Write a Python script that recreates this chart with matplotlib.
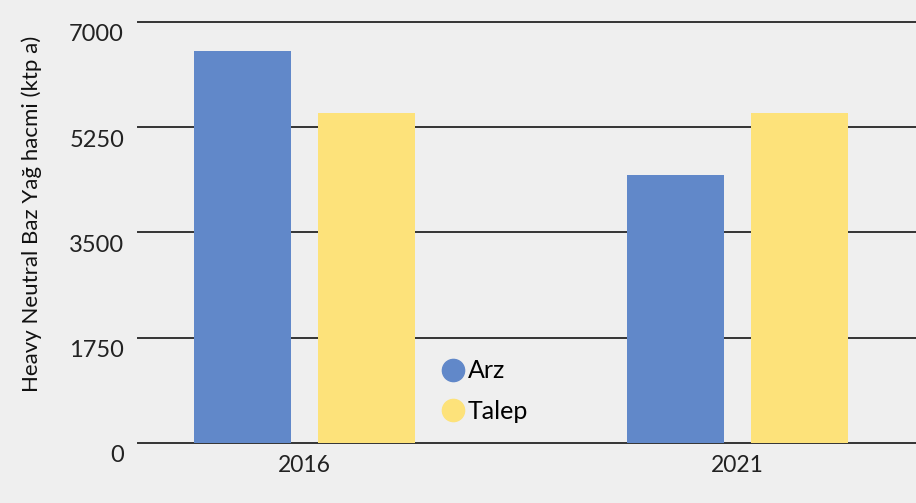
import matplotlib
matplotlib.use("Agg")
import matplotlib.pyplot as plt
import matplotlib.transforms as mtransforms
from matplotlib.lines import Line2D
import numpy as np

# values (ktp a)
years = ["2016", "2021"]
arz = [6520, 4460]
talep = [5490, 5490]
yticks = [0, 1750, 3500, 5250, 7000]
ytick_labels = ["0", "1750", "3500", "5250", "7000"]

BLUE = "#6188c9"
YELLOW = "#fde27a"
BG = "#efefef"

plt.rcParams["font.family"] = ["Lato", "DejaVu Sans"]

fig = plt.figure(figsize=(9.16, 5.03), dpi=100, facecolor=BG)
ax = fig.add_axes([138 / 916, 1 - 443 / 503, 1 - 138 / 916, 421 / 503])
ax.set_facecolor(BG)

x = np.arange(len(years))
w = 0.224
off = 0.143
ax.bar(x - off, arz, width=w, color=BLUE, zorder=3)
ax.bar(x + off, talep, width=w, color=YELLOW, zorder=3)

ax.set_xlim(-0.385, 1.412)
ax.set_ylim(0, 7000)
ax.set_yticks(yticks)
ax.set_yticklabels(ytick_labels)
ax.set_xticks(x)
ax.set_xticklabels(years)

for y in yticks:
    ax.axhline(y, color="#333333", linewidth=1.4, zorder=2, clip_on=False)

for s in ax.spines.values():
    s.set_visible(False)
ax.tick_params(axis="both", length=0, colors="#222222")
ax.tick_params(axis="y", pad=10, labelsize=17)
ax.tick_params(axis="x", pad=9, labelsize=16.5)

shift = mtransforms.ScaledTranslation(0, -11 / 100, fig.dpi_scale_trans)
for lab in ax.get_yticklabels():
    lab.set_transform(lab.get_transform() + shift)

ax.set_ylabel("Heavy Neutral Baz Yağ hacmi (ktp a)", fontsize=16, color="#111111")
ax.yaxis.set_label_coords(-0.124, 0.545)

handles = [
    Line2D([], [], marker="o", linestyle="none", markersize=16, color=BLUE, label="Arz"),
    Line2D([], [], marker="o", linestyle="none", markersize=16, color=YELLOW, label="Talep"),
]
ax.legend(handles=handles, loc="upper left", bbox_to_anchor=(428 / 916, 1 - 347 / 503),
          bbox_transform=fig.transFigure, frameon=False, borderpad=0,
          fontsize=18, handletextpad=0.1, labelspacing=0.7, handlelength=1.0)

fig.savefig("out.png", dpi=100, facecolor=BG)
